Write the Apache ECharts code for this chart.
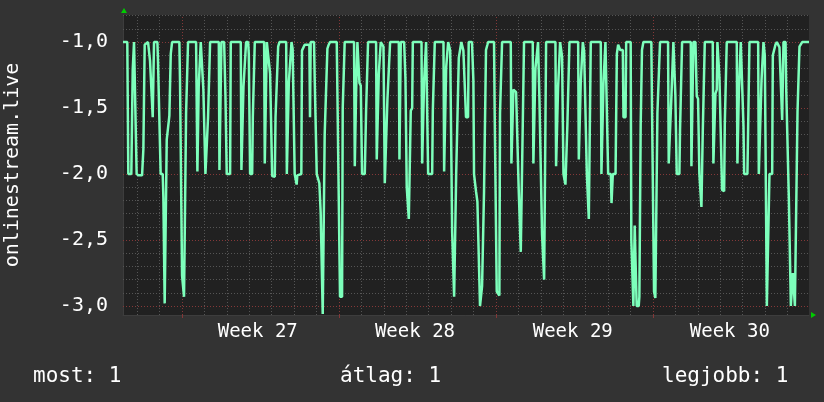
<!DOCTYPE html>
<html>
<head>
<meta charset="utf-8">
<script src="https://cdn.jsdelivr.net/npm/echarts@6/dist/echarts.min.js"></script>
<style>
html,body{margin:0;padding:0;background:#333333;}
#chart{width:824px;height:402px;}
</style>
</head>
<body>
<div id="chart"></div>
<script>
// time in hours since the left edge of the graph
const hours = [
0,4.6,5.7,8.9,10.4,11.8,13.2,14.6,16.8,20.4,21.8,23.2,26.8,28.9,30.3,31.8,32.5,33.2,36.8,37.5,38.9,40.3,42.5,43.2,44.6,46.0,46.8,48.2,49.6,51.1,52.5,60.3,61.0,62.5,63.2,64.6,65.3,66.8,67.5,68.2,69.6,78.2,79.6,80.3,81.0,82.5,83.2,84.6,86.0,88.2,90.3,91.0,91.8,93.2,102.5,103.2,104.6,105.3,108.2,109.6,111.0,114.6,115.3,126.0,126.7,128.2,128.9,130.3,131.7,133.9,134.6,136.0,138.2,138.9,140.3,141.0,151.0,151.7,153.2,153.9,156.0,157.4,158.9,159.6,162.4,163.2,164.6,166.0,167.4,174.6,175.3,176.7,177.4,178.9,180.3,
181.5,183.0,183.7,185.1,185.8,186.5,190.8,191.5,193.0,194.4,199.4,200.1,200.8,204.4,205.1,206.5,207.3,208.7,210.1,211.5,213.0,213.7,215.1,215.8,217.2,218.7,220.1,221.5,228.7,229.4,230.8,232.2,234.4,235.1,236.5,237.2,247.2,248.0,248.7,249.4,250.1,250.8,252.2,253.0,254.4,255.8,258.7,260.1,260.8,262.2,270.8,271.5,273.0,273.7,275.1,275.8,277.2,278.7,280.1,282.2,282.9,284.4,285.8,295.1,295.8,296.5,297.2,300.8,302.2,303.6,305.1,305.8,307.2,307.9,309.4,310.1,319.4,320.1,321.5,322.2,323.6,324.3,325.8,326.5,330.8,331.5,332.9,333.6,342.9,343.6,345.1,345.8,347.2,347.9,350.1,351.5,352.2,353.6,354.3,355.8,356.5,358.6,359.3,360.8,
362.0,364.2,366.3,367.0,369.2,369.9,373.4,374.9,375.6,377.0,377.7,379.2,380.6,382.0,383.4,384.2,385.6,386.3,387.7,388.4,389.9,390.6,397.0,397.7,399.1,399.9,401.3,402.7,403.4,404.9,405.6,414.9,415.6,417.0,417.7,419.1,420.6,422.0,423.4,424.8,425.6,427.0,427.7,428.4,429.1,438.4,439.1,440.6,441.3,442.7,444.1,444.9,445.6,447.7,448.4,449.8,450.6,452.0,452.7,462.7,463.4,464.8,465.5,467.0,467.7,469.1,469.8,471.3,472.7,473.4,474.8,475.5,477.0,477.7,487.0,487.7,489.1,489.8,491.3,492.0,492.7,493.4,494.8,496.3,497.7,498.4,499.8,500.5,511.2,511.9,513.4,514.1,515.5,516.2,517.7,519.1,522.0,522.7,523.4,524.1,527.0,528.4,529.8,531.2,532.0,534.8,535.5,537.7,538.4,543.2,
543.9,545.3,546.1,546.8,547.5,548.9,549.6,551.8,552.5,553.2,553.9,554.6,555.3,556.8,565.3,566.1,567.5,568.2,569.6,571.0,571.8,573.2,574.6,583.2,583.9,585.3,586.8,588.2,588.9,590.3,591.0,592.5,595.3,596.0,597.5,598.2,607.5,608.2,609.6,610.3,612.5,613.9,615.3,616.7,618.2,618.9,619.6,620.3,621.7,622.5,631.0,631.7,633.2,633.9,635.3,636.0,637.5,638.2,639.6,641.0,643.2,643.9,645.3,646.0,656.7,657.4,658.2,658.9,660.3,661.0,662.4,663.9,664.6,668.1,668.9,669.6,670.3,679.6,680.3,682.4,683.2,684.6,685.3,686.7,688.1,688.9,691.0,691.7,694.6,695.3,696.7,698.1,699.6,701.7,702.4,703.9,705.3,706.0,706.7,708.9,709.6,711.0,712.4,713.9,714.6,716.0,716.7,718.1,718.9,720.3,721.7,723.1,723.8,725.3,726.7,734.0
];
const values = [
-1,-1,-2.0,-2.0,-1.21,-1,-1,-2.0,-2.01,-2.01,-1.81,-1.02,-1,-1.14,-1.15,-1.57,-1.57,-1,-1,-1.16,-1.17,-2.0,-2.0,-2.18,-2.98,-2.98,-1.74,-1.73,-1.56,-1.09,-1,-1,-1.29,-1.30,-2.77,-2.78,-2.93,-2.93,-1.54,-1.54,-1,-1,-1.98,-1.98,-1.34,-1.34,-1,-1,-1.36,-2.0,-2.0,-1.57,-1.57,-1,-1,-1.97,-1.97,-1,-1,-1.4,-2.0,-2.0,-1,-1,-1.97,-1.97,-1.34,-1.34,-1,-1,-1.09,-2.0,-2.0,-1.57,-1.57,-1,-1,-1.92,-1.92,-1,-1,-1.24,-1.25,-2.015,-2.02,-1.57,-1.57,-1.035,-1,-1,-2.0,-2.0,-1.31,-1.31,-1,
-1.05,-1.05,-2.0,-2.01,-2.08,-2.01,-2.0,-1.065,-1.06,-1.02,-1.02,-1.57,-1,-1,-1.275,-1.275,-2.0,-2.0,-2.07,-2.29,-2.29,-3.06,-3.06,-1.7,-1.7,-1.05,-1.02,-1,-1,-1.38,-1.39,-2.93,-2.93,-1.5,-1.49,-1,-1,-1.94,-1.94,-1.39,-1.39,-1,-1,-1.31,-1.33,-2.0,-2.0,-1.52,-1.52,-1,-1,-1.89,-1.89,-1.24,-1.24,-1,-1,-1.035,-2.07,-2.075,-1.44,-1.43,-1,-1,-1.89,-1.89,-1,-1,-1.275,-2.1,-2.1,-2.34,-2.34,-1.52,-1.5,-1,-1,-1.92,-1.92,-1.29,-1.29,-1,-1,-2.0,-2.0,-1.52,-1.52,-1,-1,-1.98,-1.98,-1.19,-1.19,-1,-1.065,-1.07,-2.44,-2.45,-2.93,-2.93,-2.0,-2.0,-1.12,-1.12,
-1,-1.065,-1.065,-1.57,-1.57,-1,-1,-1.29,-2.0,-2.01,-2.13,-2.21,-2.22,-3.0,-3.0,-2.85,-2.85,-2.13,-2.12,-1.06,-1.02,-1,-1,-1.55,-1.56,-2.89,-2.9,-2.92,-1.54,-1.53,-1,-1,-1.92,-1.92,-1.36,-1.36,-1.38,-1.39,-2.12,-2.12,-2.59,-2.59,-1.64,-1.64,-1,-1,-1.92,-1.92,-1.2,-1.19,-1,-1,-1.44,-1.45,-2.46,-2.47,-2.8,-2.8,-1,-1,-1.94,-1.94,-1.35,-1.34,-1,-1,-1.11,-2.0,-2.01,-2.08,-2.08,-1.62,-1.62,-1,-1,-1.89,-1.89,-1.3,-1.29,-1,-1,-1.07,-1.07,-2.0,-2.0,-2.34,-2.34,-1,-1,-2.0,-2.0,-1.31,-1.31,-1,-1,-2.0,-2.0,-2.22,-2.22,-2.0,-2.0,-1.09,-1.02,-1.02,-1.06,-1.06,-1.57,-1.57,-1,-1,
-2.5,-2.5,-3.0,-3.0,-2.39,-2.39,-3.0,-3.0,-2.93,-2.93,-1.63,-1.63,-1.06,-1,-1,-1.54,-1.54,-2.89,-2.94,-2.94,-1.54,-1.535,-1,-1,-1.92,-1.92,-1.41,-1.41,-1,-1,-1.4,-2.0,-2.0,-1.67,-1.66,-1,-1,-1.94,-1.94,-1,-1,-1.41,-1.43,-2.0,-2.01,-2.25,-2.25,-1.69,-1.68,-1,-1,-1.92,-1.92,-1.39,-1.36,-1,-1,-1.275,-1.29,-2.12,-2.13,-1.62,-1.62,-1,-1,-1.92,-1.92,-1.39,-1.38,-1,-1,-1.64,-2.0,-2.0,-1.64,-1.64,-1,-1,-2.0,-2.0,-1.29,-1.29,-1,-1.1,-1.1,-3.0,-3.0,-2.0,-2.0,-1.1,-1.09,-1.02,-1,-1,-1.04,-1.04,-1.59,-1.59,-1,-1,-1.35,-1.35,-2.17,-2.17,-3.0,-3.0,-2.75,-2.75,-3.0,-3.0,-1.53,-1.53,-1.035,-1.02,-1,-1
];

const totalHours = 734;
const yMin = -3.068, yMax = -0.795;
const yLabelValues = [-3.0, -2.5, -2.0, -1.5, -1.0];
const yMinorValues = [-2.9,-2.8,-2.7,-2.6,-2.4,-2.3,-2.2,-2.1,-1.9,-1.8,-1.7,-1.6,-1.4,-1.3,-1.2,-1.1,-0.9,-0.8];
const firstMidnight = 15.1;   // first day boundary (hours)
const weekStarts = [63.1, 231.1, 399.1, 567.1];
const weekLabels = ['Week 27', 'Week 28', 'Week 29', 'Week 30'];
const weekLabelHours = [144.2, 312.4, 481.2, 649.3];
const legendNames = ['most', 'átlag', 'legjobb'];
const legendValues = [1, 1, 1];
const axisTitle = 'onlinestream.live';

const MONO = "'DejaVu Sans Mono', monospace";
const minorColor = '#555555';
const majorColor = '#843838';

const pts = hours.map((h, i) => [h, values[i]]);

const gridLines = [];
for (let d = firstMidnight; d < totalHours; d += 24) {
  const isWeek = weekStarts.some(w => Math.abs(w - d) < 0.5);
  gridLines.push({ xAxis: d, lineStyle: { color: isWeek ? majorColor : minorColor, type: [1, 2], width: 1 } });
}
yMinorValues.forEach(v => gridLines.push({ yAxis: v, lineStyle: { color: minorColor, type: [1, 2], width: 1 } }));
yLabelValues.forEach(v => gridLines.push({ yAxis: v, lineStyle: { color: majorColor, type: [1, 2], width: 1 } }));

const chart = echarts.init(document.getElementById('chart'), null, { renderer: 'canvas' });
chart.setOption({
  animation: false,
  backgroundColor: '#333333',
  grid: { left: 123, right: 15, top: 15, bottom: 87, outerBoundsMode: 'none', containLabel: false, show: true, backgroundColor: '#212121', borderWidth: 0 },
  xAxis: {
    type: 'value', min: 0, max: totalHours,
    axisLine: { show: true, lineStyle: { color: '#3d3d3d', width: 1 } },
    axisTick: { show: true, customValues: weekStarts, length: 3, lineStyle: { color: majorColor } },
    splitLine: { show: false },
    axisLabel: {
      customValues: weekLabelHours,
      formatter: v => { let k = 0, best = 1e9; weekLabelHours.forEach((w, i) => { if (Math.abs(w - v) < best) { best = Math.abs(w - v); k = i; } }); return weekLabels[k]; },
      color: '#ffffff', fontFamily: MONO, fontSize: 19, margin: 8
    }
  },
  yAxis: {
    type: 'value', min: yMin, max: yMax,
    name: axisTitle, nameLocation: 'middle', nameRotate: 90, nameGap: 100,
    nameTextStyle: { color: '#ffffff', fontFamily: MONO, fontSize: 20 },
    axisLine: { show: true, lineStyle: { color: '#3d3d3d', width: 1 } },
    axisTick: { show: false },
    splitLine: { show: false },
    axisLabel: {
      customValues: yLabelValues,
      formatter: v => v.toFixed(1).replace('.', ','),
      color: '#ffffff', fontFamily: MONO, fontSize: 20, margin: 15
    }
  },
  series: [
    {
      type: 'line', data: [], z: 1, silent: true,
      markLine: { silent: true, symbol: ['none', 'none'], animation: false, label: { show: false }, emphasis: { disabled: true }, data: gridLines }
    },
    {
      type: 'line', data: pts, z: 5, showSymbol: false, silent: true,
      lineStyle: { color: '#7dffbb', width: 2.5 }
    }
  ],
  graphic: [
    { type: 'polygon', shape: { points: [[121, 13], [127, 13], [124, 8]] }, style: { fill: '#00cc00' } },
    { type: 'polygon', shape: { points: [[811, 312], [811, 318], [816, 315]] }, style: { fill: '#00cc00' } },
    { type: 'text', left: 33, top: 366, style: { text: legendNames[0] + ': ' + legendValues[0], fill: '#fff', font: '21px ' + MONO } },
    { type: 'text', left: 340, top: 366, style: { text: legendNames[1] + ': ' + legendValues[1], fill: '#fff', font: '21px ' + MONO } },
    { type: 'text', left: 662, top: 366, style: { text: legendNames[2] + ': ' + legendValues[2], fill: '#fff', font: '21px ' + MONO } }
  ]
});
</script>
</body>
</html>
